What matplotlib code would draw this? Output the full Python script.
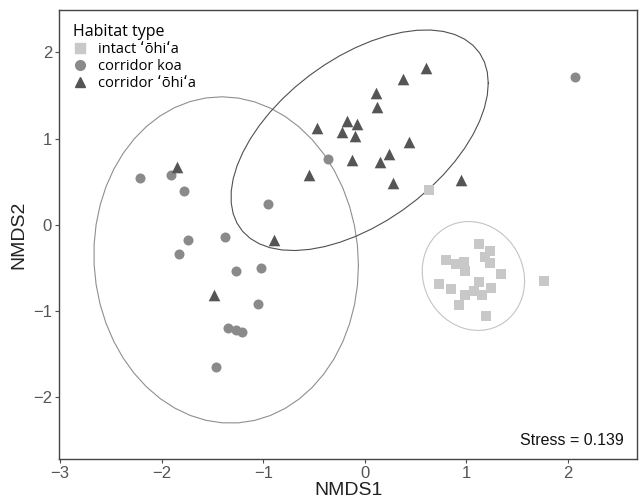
import numpy as np
import matplotlib
matplotlib.use('Agg')
import matplotlib.pyplot as plt
from matplotlib.lines import Line2D

plt.rcParams['font.family'] = ['Liberation Sans', 'DejaVu Sans']

# NMDS scores
intact_x = [1.12, 1.23, 0.80, 0.98, 0.90, 1.18, 1.23, 0.99, 1.34, 0.73,
            1.12, 0.85, 1.07, 1.24, 0.99, 1.15, 0.93, 1.19, 1.76, 0.63]
intact_y = [-0.22, -0.30, -0.41, -0.43, -0.46, -0.38, -0.45, -0.54, -0.57, -0.69,
            -0.67, -0.75, -0.77, -0.74, -0.82, -0.82, -0.93, -1.06, -0.65, 0.40]

koa_x = [-2.21, -1.91, -1.78, -0.36, -0.95, -1.74, -1.38, -1.83, -1.27, -1.02,
         -1.05, -1.35, -1.27, -1.21, -1.46, 2.07]
koa_y = [0.54, 0.58, 0.39, 0.76, 0.24, -0.18, -0.14, -0.34, -0.54, -0.50,
         -0.92, -1.20, -1.22, -1.24, -1.65, 1.71]

ohia_x = [0.60, 0.38, 0.11, 0.12, -0.47, -0.18, -0.08, -0.22, -0.10, 0.43,
          0.24, -0.13, 0.15, -0.55, 0.28, 0.95, -1.85, -0.89, -1.48]
ohia_y = [1.82, 1.69, 1.53, 1.36, 1.12, 1.20, 1.17, 1.08, 1.03, 0.96,
          0.82, 0.75, 0.73, 0.58, 0.48, 0.52, 0.67, -0.18, -0.81]

groups = ['intact ʻōhiʻa', 'corridor koa', 'corridor ʻōhiʻa']
stress = 0.139


def cov_trob(xy, nu=5, maxit=25, tol=0.01):
    # robust t covariance, same idea as MASS::cov.trob
    n, p = xy.shape
    loc = xy.mean(axis=0)
    w = np.ones(n)
    for it in range(maxit):
        w0 = w
        X = xy - loc
        s = np.sqrt(w / w.sum())[:, None] * X
        u, d, vt = np.linalg.svd(s, full_matrices=False)
        wX = X @ vt.T @ np.diag(1 / d)
        Q = (wX ** 2).sum(axis=1)
        w = (nu + p) / (nu + Q)
        loc = (w[:, None] * xy).sum(axis=0) / w.sum()
        if np.all(np.abs(w - w0) < tol):
            break
    cov = (np.sqrt(w)[:, None] * X).T @ (np.sqrt(w)[:, None] * X) / n
    return loc, cov


def ellipse_pts(x, y, level=0.95, segments=51):
    xy = np.column_stack([x, y])
    n = len(x)
    center, shape = cov_trob(xy)
    dfd = n - 1
    qf = dfd / 2 * ((1 - level) ** (-2 / dfd) - 1)
    radius = np.sqrt(2 * qf)
    R = np.linalg.cholesky(shape).T
    a = np.linspace(0, 2 * np.pi, segments + 1)
    circ = np.column_stack([np.cos(a), np.sin(a)])
    return center + radius * circ @ R


fig = plt.figure(figsize=(6.41, 5.04), dpi=100)
ax = fig.add_axes([0.092, 0.089, 0.902, 0.891])

cols = ['#c8c8c8', '#8a8a8a', '#555555']
lcols = ['#c4c4c4', '#8f8f8f', '#505050']
marks = ['s', 'o', '^']
sizes = [48, 52, 70]
data = [(intact_x, intact_y), (koa_x, koa_y), (ohia_x, ohia_y)]

for (gx, gy), c in zip(data, lcols):
    e = ellipse_pts(np.array(gx), np.array(gy))
    ax.plot(e[:, 0], e[:, 1], color=c, lw=0.8, zorder=1)

for (gx, gy), c, m, s in zip(data, cols, marks, sizes):
    ax.scatter(gx, gy, c=c, marker=m, s=s, linewidths=0, zorder=3)

ax.set_xlim(-3.01, 2.68)
ax.set_ylim(-2.72, 2.49)
ax.set_xticks([-3, -2, -1, 0, 1, 2])
ax.set_yticks([-2, -1, 0, 1, 2])
ax.set_xticklabels(['\u22123', '\u22122', '\u22121', '0', '1', '2'])
ax.set_yticklabels(['\u22122', '\u22121', '0', '1', '2'])
ax.tick_params(colors='#4d4d4d', labelsize=12, length=3, width=0.8,
               labelcolor='#555555', pad=2)
for sp in ax.spines.values():
    sp.set_color('#444444')
    sp.set_linewidth(1.0)

ax.set_xlabel('NMDS1', fontsize=14, color='#222222', labelpad=1)
ax.set_ylabel('NMDS2', fontsize=14, color='#222222', labelpad=4)

ax.text(2.55, -2.5, 'Stress = ' + str(stress), ha='right', va='center',
        fontsize=11.5, color='#111111')

handles = [Line2D([], [], ls='none', marker=m, color=c, markersize=7)
           for m, c in zip(marks, cols)]
leg = ax.legend(handles, groups, title='Habitat type', loc='upper left',
                frameon=False, title_fontsize=11.5,
                handlelength=1.0, handletextpad=0.7, labelspacing=0.15,
                borderaxespad=0.55,
                prop={'family': ['Open Sans', 'DejaVu Sans'], 'size': 10.5})
leg._legend_box.align = 'left'
leg.get_title().set_family(['Open Sans', 'DejaVu Sans'])

plt.savefig('out.png', dpi=100)
